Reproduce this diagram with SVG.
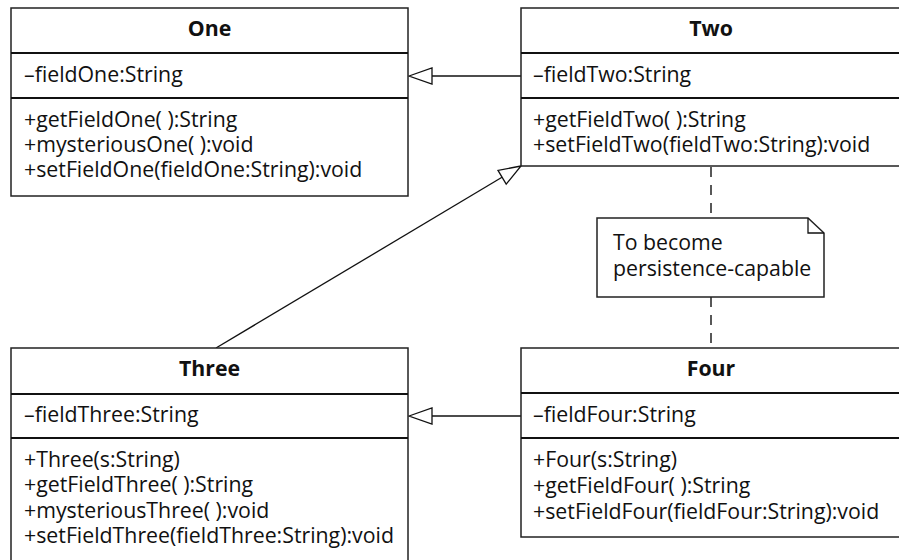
<svg xmlns="http://www.w3.org/2000/svg" width="899" height="560" viewBox="0 0 899 560">
<style>
.box{fill:#fff;stroke:#222;stroke-width:1.5}
.div{stroke:#111;stroke-width:2}
.t{font-family:"Open Sans","Liberation Sans",sans-serif;font-size:21.3px;fill:#111}
.b{font-weight:bold;text-anchor:middle}
.ln{stroke:#111;stroke-width:1.3;fill:none}
.dash{stroke:#222;stroke-width:1.5;stroke-dasharray:10,8;fill:none}
.tri{fill:#fff;stroke:#111;stroke-width:1.3}
</style>
<rect width="899" height="560" fill="#fff"/>
<g id="connectors">
<line class="ln" x1="432" y1="76" x2="521" y2="76"/>
<polygon class="tri" points="409,76 432,68 432,84"/>
<line class="ln" x1="432" y1="416" x2="521" y2="416"/>
<polygon class="tri" points="409,416 432,408 432,424"/>
<line class="ln" x1="216" y1="348" x2="502" y2="177.3"/>
<polygon class="tri" points="521,166 498,170.4 506.2,184.2"/>
<line class="dash" x1="711" y1="167" x2="711" y2="218"/>
<line class="dash" x1="711" y1="297" x2="711" y2="348"/>
</g>
<g id="One">
<rect class="box" x="11" y="8" width="397" height="188"/>
<line class="div" x1="11" y1="53" x2="408" y2="53"/>
<line class="div" x1="11" y1="98" x2="408" y2="98"/>
<text class="t b" x="209.5" y="36">One</text>
<text class="t" x="24" y="82">–fieldOne:String</text>
<text class="t" x="24" y="127">+getFieldOne( ):String</text>
<text class="t" x="24" y="152">+mysteriousOne( ):void</text>
<text class="t" x="24" y="177">+setFieldOne(fieldOne:String):void</text>
</g>
<g id="Two">
<rect class="box" x="521" y="8" width="380" height="158"/>
<line class="div" x1="521" y1="53" x2="901" y2="53"/>
<line class="div" x1="521" y1="98" x2="901" y2="98"/>
<text class="t b" x="711" y="36">Two</text>
<text class="t" x="533" y="82">–fieldTwo:String</text>
<text class="t" x="533" y="127">+getFieldTwo( ):String</text>
<text class="t" x="533" y="152">+setFieldTwo(fieldTwo:String):void</text>
</g>
<g id="Note">
<path class="box" d="M597,218 H808 L824,233 V297 H597 Z"/>
<path class="ln" d="M808,218 V233 H824"/>
<text class="t" x="613" y="250">To become</text>
<text class="t" x="613" y="276">persistence-capable</text>
</g>
<g id="Three">
<rect class="box" x="11" y="348" width="397" height="214"/>
<line class="div" x1="11" y1="394" x2="408" y2="394"/>
<line class="div" x1="11" y1="438" x2="408" y2="438"/>
<text class="t b" x="209.5" y="376">Three</text>
<text class="t" x="24" y="422">–fieldThree:String</text>
<text class="t" x="24" y="467">+Three(s:String)</text>
<text class="t" x="24" y="492">+getFieldThree( ):String</text>
<text class="t" x="24" y="518">+mysteriousThree( ):void</text>
<text class="t" x="24" y="543">+setFieldThree(fieldThree:String):void</text>
</g>
<g id="Four">
<rect class="box" x="521" y="348" width="380" height="189"/>
<line class="div" x1="521" y1="393" x2="901" y2="393"/>
<line class="div" x1="521" y1="438" x2="901" y2="438"/>
<text class="t b" x="711" y="376">Four</text>
<text class="t" x="533" y="422">–fieldFour:String</text>
<text class="t" x="533" y="467">+Four(s:String)</text>
<text class="t" x="533" y="493">+getFieldFour( ):String</text>
<text class="t" x="533" y="519">+setFieldFour(fieldFour:String):void</text>
</g>
</svg>
